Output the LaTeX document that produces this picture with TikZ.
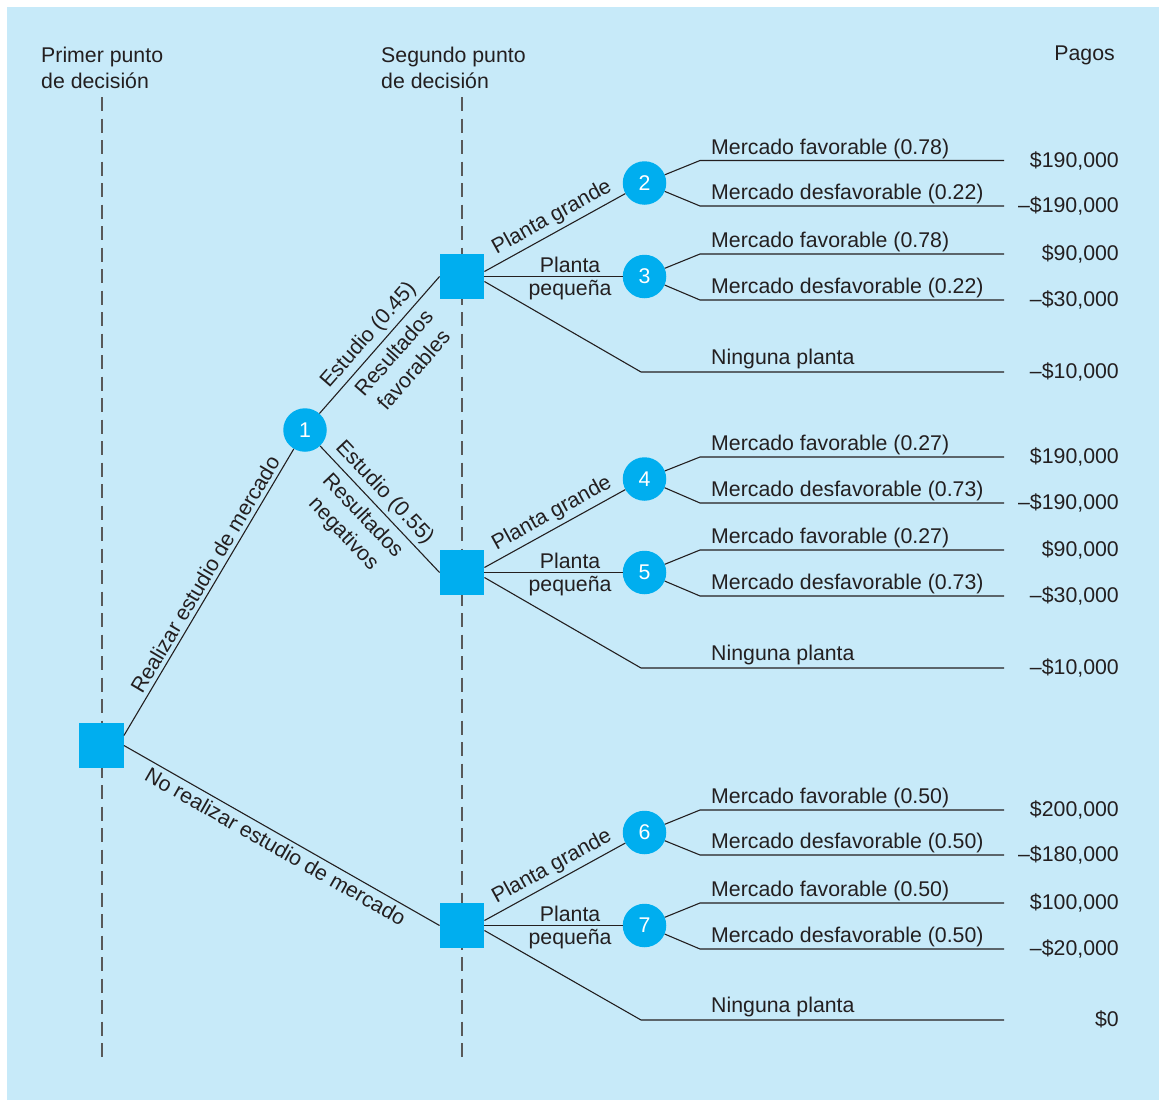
\documentclass[tikz,border=0pt]{standalone}
\usepackage{fontspec}
\setmainfont{Liberation Sans}

\definecolor{panelblue}{RGB}{199,234,249}
\definecolor{nodecyan}{RGB}{0,174,239}
\definecolor{ink}{RGB}{35,31,32}

\tikzset{
  lbl/.style={font=\fontsize{21.3}{26.5}\selectfont, text=ink},
  decision/.style={fill=nodecyan, minimum size=44.5pt, inner sep=0pt},
  chance/.style={circle, fill=nodecyan, minimum size=43.5pt, inner sep=0pt, font=\fontsize{21.3}{26.5}\selectfont, text=white},
  branch/.style={draw=ink, line width=1.1pt},
  guide/.style={draw=black!65, line width=1.5pt, dash pattern=on 14pt off 7.5pt},
  outc/.style={lbl, anchor=base west, inner sep=0pt},
  pay/.style={lbl, anchor=base east, inner sep=0pt},
  along/.style={lbl, sloped, inner sep=4pt},
  twoline/.style={lbl, sloped, align=center, inner sep=7pt},
  flat/.style={lbl, inner sep=3pt}
}

\begin{document}
\begin{tikzpicture}[x=1pt, y=-1pt]
\useasboundingbox (0,0) rectangle (1159,1100);
\fill[panelblue] (7,7) rectangle (1159,1100);
\node[lbl, anchor=north west, inner sep=0pt, align=left] (head1) at (41,46.5) {Primer punto\\de decisión};
\node[lbl, anchor=north west, inner sep=0pt, align=left] (head2) at (381,46.5) {Segundo punto\\de decisión};
\node[lbl, anchor=base east, inner sep=0pt] (head3) at (1115,60.5) {Pagos};
\draw[guide] (102,97) -- (102,1063);
\draw[guide] (462,97) -- (462,1063);
\node[decision] (d1) at (101.5,745.5) {};
\node[decision] (d2) at (462,276.5) {};
\node[decision] (d3) at (462,572.5) {};
\node[decision] (d4) at (462,925.5) {};
\node[chance] (c1) at (305,430) {1};
\node[chance] (c2) at (644.5,183) {2};
\node[chance] (c3) at (644.5,276.5) {3};
\node[chance] (c4) at (644.5,479) {4};
\node[chance] (c5) at (644.5,572.5) {5};
\node[chance] (c6) at (644.5,832.5) {6};
\node[chance] (c7) at (644.5,925.5) {7};
\draw[branch] ([yshift=10pt]d1.east) -- (c1) node[along, pos=0.54, above] {Realizar estudio de mercado};
\draw[branch] (d1.east) -- (d4.west) node[along, pos=0.5, below] {No realizar estudio de mercado};
\draw[branch] (c1) -- (d2.west) node[along, pos=0.5, above] {Estudio (0.45)} node[twoline, pos=0.52, below] {Resultados\\favorables};
\draw[branch] (c1) -- (d3.west) node[along, pos=0.45, above] {Estudio (0.55)} node[twoline, pos=0.46, below] {Resultados\\negativos};
\draw[branch] ([yshift=5pt]d2.east) -- (c2) node[along, pos=0.53, above] {Planta grande};
\draw[branch] (d2.east) -- (c3) node[flat, pos=0.62, above] {Planta} node[flat, pos=0.62, below] {pequeña};
\draw[branch] ([yshift=5pt]d3.east) -- (c4) node[along, pos=0.53, above] {Planta grande};
\draw[branch] (d3.east) -- (c5) node[flat, pos=0.62, above] {Planta} node[flat, pos=0.62, below] {pequeña};
\draw[branch] ([yshift=5pt]d4.east) -- (c6) node[along, pos=0.53, above] {Planta grande};
\draw[branch] (d4.east) -- (c7) node[flat, pos=0.62, above] {Planta} node[flat, pos=0.62, below] {pequeña};
\coordinate (k2a) at (700,160.5); \coordinate (e2a) at (1004,160.5);
\coordinate (k2b) at (700,206); \coordinate (e2b) at (1004,206);
\coordinate (k3a) at (700,254); \coordinate (e3a) at (1004,254);
\coordinate (k3b) at (700,300); \coordinate (e3b) at (1004,300);
\coordinate (n2) at (641,372); \coordinate (f2) at (1004,372);
\coordinate (k4a) at (700,457); \coordinate (e4a) at (1004,457);
\coordinate (k4b) at (700,503); \coordinate (e4b) at (1004,503);
\coordinate (k5a) at (700,550); \coordinate (e5a) at (1004,550);
\coordinate (k5b) at (700,596); \coordinate (e5b) at (1004,596);
\coordinate (n3) at (641,668); \coordinate (f3) at (1004,668);
\coordinate (k6a) at (700,810); \coordinate (e6a) at (1004,810);
\coordinate (k6b) at (700,855); \coordinate (e6b) at (1004,855);
\coordinate (k7a) at (700,903); \coordinate (e7a) at (1004,903);
\coordinate (k7b) at (700,949); \coordinate (e7b) at (1004,949);
\coordinate (n4) at (641,1020); \coordinate (f4) at (1004,1020);
\draw[branch] (c2) -- (k2a) -- (e2a);
\draw[branch] (c2) -- (k2b) -- (e2b);
\draw[branch] (c3) -- (k3a) -- (e3a);
\draw[branch] (c3) -- (k3b) -- (e3b);
\draw[branch] ([yshift=-5pt]d2.east) -- (n2) -- (f2);
\draw[branch] (c4) -- (k4a) -- (e4a);
\draw[branch] (c4) -- (k4b) -- (e4b);
\draw[branch] (c5) -- (k5a) -- (e5a);
\draw[branch] (c5) -- (k5b) -- (e5b);
\draw[branch] ([yshift=-5pt]d3.east) -- (n3) -- (f3);
\draw[branch] (c6) -- (k6a) -- (e6a);
\draw[branch] (c6) -- (k6b) -- (e6b);
\draw[branch] (c7) -- (k7a) -- (e7a);
\draw[branch] (c7) -- (k7b) -- (e7b);
\draw[branch] ([yshift=-5pt]d4.east) -- (n4) -- (f4);
\node[outc] (m2a) at (711,154) {Mercado favorable (0.78)};
\node[outc] (m2b) at (711,199.5) {Mercado desfavorable (0.22)};
\node[outc] (m3a) at (711,247.5) {Mercado favorable (0.78)};
\node[outc] (m3b) at (711,293.5) {Mercado desfavorable (0.22)};
\node[outc] (m2n) at (711,364) {Ninguna planta};
\node[outc] (m4a) at (711,450.5) {Mercado favorable (0.27)};
\node[outc] (m4b) at (711,496.5) {Mercado desfavorable (0.73)};
\node[outc] (m5a) at (711,543.5) {Mercado favorable (0.27)};
\node[outc] (m5b) at (711,589.5) {Mercado desfavorable (0.73)};
\node[outc] (m3n) at (711,660) {Ninguna planta};
\node[outc] (m6a) at (711,803.5) {Mercado favorable (0.50)};
\node[outc] (m6b) at (711,848.5) {Mercado desfavorable (0.50)};
\node[outc] (m7a) at (711,896.5) {Mercado favorable (0.50)};
\node[outc] (m7b) at (711,942.5) {Mercado desfavorable (0.50)};
\node[outc] (m4n) at (711,1012) {Ninguna planta};
\node[pay] (p2a) at (1119,167) {\$190,000};
\node[pay] (p2b) at (1119,212.5) {--\$190,000};
\node[pay] (p3a) at (1119,260.5) {\$90,000};
\node[pay] (p3b) at (1119,306.5) {--\$30,000};
\node[pay] (p2n) at (1119,378.5) {--\$10,000};
\node[pay] (p4a) at (1119,463.5) {\$190,000};
\node[pay] (p4b) at (1119,509.5) {--\$190,000};
\node[pay] (p5a) at (1119,556.5) {\$90,000};
\node[pay] (p5b) at (1119,602.5) {--\$30,000};
\node[pay] (p3n) at (1119,674.5) {--\$10,000};
\node[pay] (p6a) at (1119,816.5) {\$200,000};
\node[pay] (p6b) at (1119,861.5) {--\$180,000};
\node[pay] (p7a) at (1119,909.5) {\$100,000};
\node[pay] (p7b) at (1119,955.5) {--\$20,000};
\node[pay] (p4n) at (1119,1026.5) {\$0};
\end{tikzpicture}
\end{document}
